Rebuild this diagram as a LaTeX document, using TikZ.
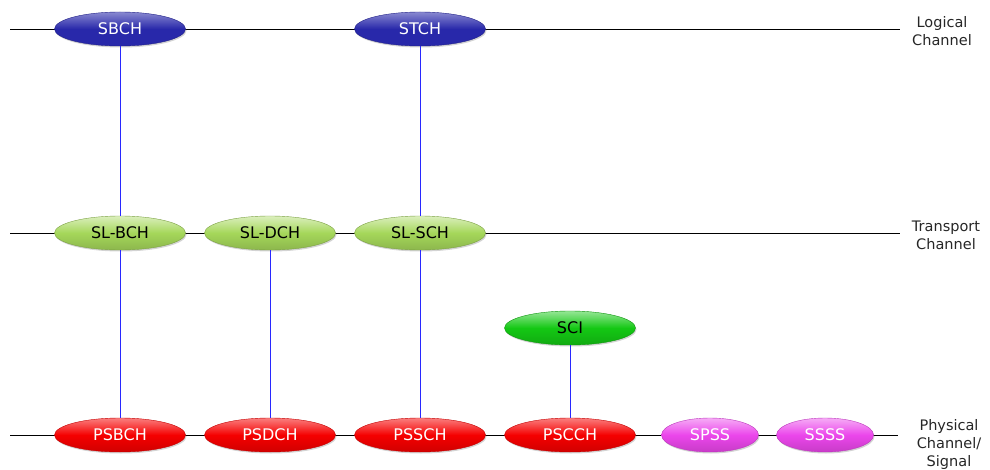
\documentclass[tikz,border=0pt]{standalone}
\usepackage{fontspec}
\setmainfont{DejaVu Sans}
\usetikzlibrary{shapes.geometric,shadows}

% channel colours
\definecolor{logblue}{RGB}{40,40,170}
\definecolor{trgreen}{RGB}{165,215,90}
\definecolor{scigreen}{RGB}{20,200,20}
\definecolor{phyred}{RGB}{245,0,0}
\definecolor{sigpink}{RGB}{235,70,235}
\definecolor{mapblue}{RGB}{40,40,255}

\tikzset{
  chan/.style={ellipse, minimum width=131pt, minimum height=34pt, inner sep=0pt,
    font=\fontsize{16}{19}\selectfont,
    drop shadow={opacity=0.35, shadow xshift=1pt, shadow yshift=-1.5pt}},
  logical/.style={chan, top color=logblue!55!white, bottom color=logblue, middle color=logblue, draw=logblue!80!black, text=white},
  transport/.style={chan, top color=trgreen!40!white, bottom color=trgreen!85!black, middle color=trgreen, draw=trgreen!75!black, text=black},
  control/.style={chan, top color=scigreen!45!white, bottom color=scigreen!85!black, middle color=scigreen, draw=scigreen!75!black, text=black},
  physical/.style={chan, top color=phyred!50!white, bottom color=phyred!85!black, middle color=phyred, draw=phyred!80!black, text=white},
  signal/.style={chan, minimum width=97pt, top color=sigpink!45!white, bottom color=sigpink!85!black, middle color=sigpink, draw=sigpink!80!black, text=white},
  layer/.style={align=center, font=\fontsize{14.5}{18}\selectfont, text=black!85},
  map/.style={draw=mapblue, line width=0.9pt}
}

\begin{document}
\begin{tikzpicture}[x=1pt, y=-1pt]
\useasboundingbox (0,0) rectangle (990,470);

% ends of the three layer lines
\coordinate (logL) at (10,29);
\coordinate (logR) at (900,29);
\coordinate (trL) at (10,233);
\coordinate (trR) at (900,233);
\coordinate (phyL) at (10,435);
\coordinate (phyR) at (898,435);

\draw[line width=0.8pt] (logL) -- (logR);
\draw[line width=0.8pt] (trL) -- (trR);
\draw[line width=0.8pt] (phyL) -- (phyR);

% logical channels
\node[logical] (sbch) at (120,29) {SBCH};
\node[logical] (stch) at (420,29) {STCH};

% transport channels
\node[transport] (slbch) at (120,233) {SL-BCH};
\node[transport] (sldch) at (270,233) {SL-DCH};
\node[transport] (slsch) at (420,233) {SL-SCH};

% physical channels and signals
\node[control] (sci) at (570,328) {SCI};
\node[physical] (psbch) at (120,435) {PSBCH};
\node[physical] (psdch) at (270,435) {PSDCH};
\node[physical] (pssch) at (420,435) {PSSCH};
\node[physical] (pscch) at (570,435) {PSCCH};
\node[signal] (spss) at (710,435) {SPSS};
\node[signal] (ssss) at (825,435) {SSSS};

% blue mapping lines between the layers
\draw[map] (sbch) -- (slbch);
\draw[map] (stch) -- (slsch);
\draw[map] (slbch) -- (psbch);
\draw[map] (sldch) -- (psdch);
\draw[map] (slsch) -- (pssch);
\draw[map] (sci) -- (pscch);

% layer names
\node[layer] (loglabel) at (942,31) {Logical\\Channel};
\node[layer] (trlabel) at (946,235) {Transport\\Channel};
\node[layer] (phylabel) at (949,444) {Physical\\Channel/\\Signal};
\end{tikzpicture}
\end{document}
